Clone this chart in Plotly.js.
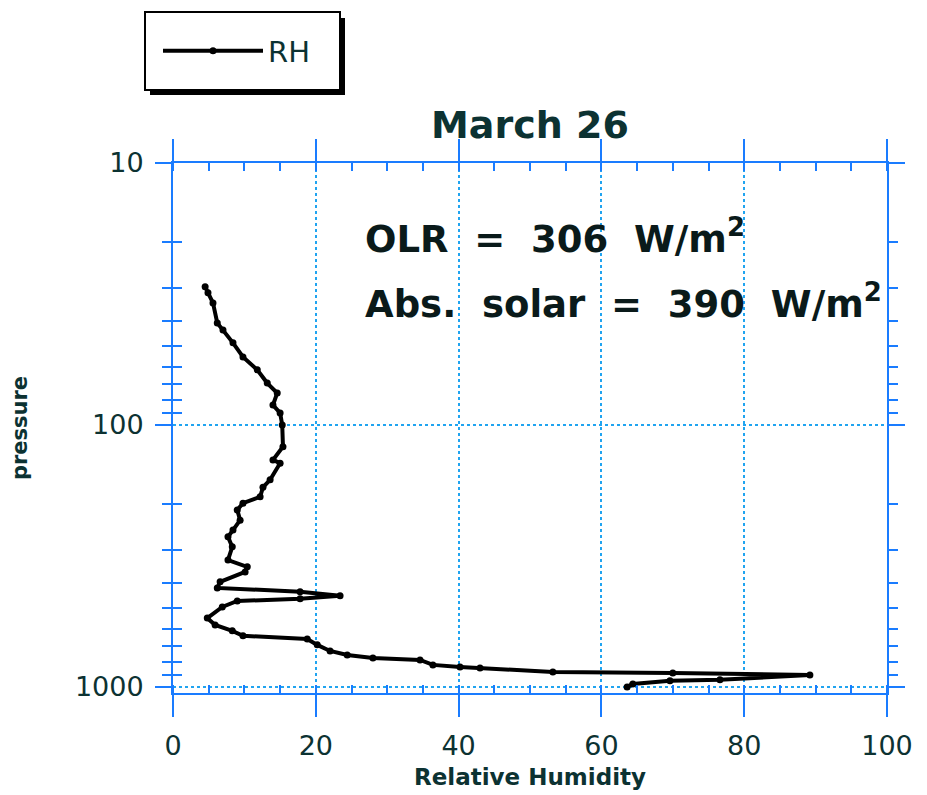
<!DOCTYPE html>
<html>
<head>
<meta charset="utf-8">
<script src="https://cdn.plot.ly/plotly-3.0.1.min.js"></script>
<style>
  html, body { margin: 0; padding: 0; background: #ffffff; }
  #chart { width: 927px; height: 795px; }
</style>
</head>
<body>
<div id="chart"></div>
<script>
// ---- data ----
const seriesName = 'RH';
const chartTitle = 'March 26';
const pressure = [29.7, 31.3, 34.2, 40.8, 43.4, 48.6, 55.0, 61.6, 69.2, 75.5,
                  83.9, 90.0, 100, 121, 136, 140, 162, 173, 188, 199,
                  211, 231, 252, 267, 292, 328, 348, 364, 397, 419,
                  433, 449, 461, 470, 495, 546, 580, 611, 638, 656,
                  691, 729, 755, 775, 789, 824, 839, 846, 877, 885,
                  900, 940, 948, 975, 1000];
const relHumidity = [4.5, 4.9, 5.6, 6.2, 7.0, 8.4, 9.8, 11.8, 13.2, 14.6,
                     14.0, 15.0, 15.3, 15.4, 14.0, 15.0, 13.6, 12.6, 12.2, 9.8,
                     9.0, 9.4, 8.4, 7.7, 8.3, 7.7, 10.4, 10.1, 6.6, 6.2,
                     17.8, 23.4, 17.8, 9.0, 6.9, 4.8, 5.9, 8.3, 9.8, 18.8,
                     20.2, 22.0, 24.4, 28.0, 34.6, 36.4, 40.2, 43.0, 53.2, 70.0,
                     89.2, 76.6, 69.6, 64.4, 63.6];
const xTickVals = [0, 20, 40, 60, 80, 100];
const yTickVals = [10, 100, 1000];
const yTickText = ['10', '100', '1000'];
const yMinorVals = [20, 30, 40, 50, 60, 70, 80, 90, 200, 300, 400, 500, 600, 700, 800, 900];
const olrText = 'OLR\u00a0\u00a0=\u00a0\u00a0306\u00a0\u00a0W/m<sup>2</sup>';
const solarText = 'Abs.\u00a0\u00a0solar\u00a0\u00a0=\u00a0\u00a0390\u00a0\u00a0W/m<sup>2</sup>';

// ---- styling ----
const AX = '#1a7cff';
const GRID = '#20a4f0';
const TXT = '#0c3232';
const FONT = 'DejaVu Sans, Arial, sans-serif';
const yRange = [Math.log10(1055), 1];

const traces = [
  {
    type: 'scatter',
    mode: 'lines+markers',
    name: seriesName,
    x: relHumidity,
    y: pressure,
    line: { color: '#000000', width: 4 },
    marker: { color: '#000000', size: 7, symbol: 'circle' },
    hoverinfo: 'x+y'
  },
  {
    type: 'scatter', x: [], y: [], yaxis: 'y2',
    showlegend: false, hoverinfo: 'skip'
  }
];

const layout = {
  width: 927,
  height: 795,
  paper_bgcolor: '#ffffff',
  plot_bgcolor: '#ffffff',
  margin: { l: 173, r: 40, t: 163, b: 102, pad: 0 },
  font: { family: FONT, color: TXT },
  showlegend: true,
  title: {
    text: '<b>' + chartTitle + '</b>',
    font: { family: FONT, size: 38, color: TXT },
    xref: 'paper', x: 0.5, xanchor: 'center',
    y: 1 - 125 / 795, yanchor: 'middle'
  },
  xaxis: {
    range: [0, 100], autorange: false,
    tickmode: 'array', tickvals: xTickVals,
    ticks: 'outside', ticklen: 22, tickwidth: 2, tickcolor: AX,
    showline: true, linecolor: AX, linewidth: 2, mirror: 'ticks',
    showgrid: true, gridcolor: GRID, gridwidth: 2, griddash: 'dot',
    zeroline: false,
    tickfont: { family: FONT, size: 27, color: TXT },
    ticklabelstandoff: 6,
    minor: { dtick: 5, tick0: 0, ticks: 'inside', ticklen: 8, tickwidth: 2, tickcolor: AX, showgrid: false },
    title: { text: '<b>Relative Humidity</b>', font: { family: FONT, size: 23, color: TXT }, standoff: 8 }
  },
  yaxis: {
    type: 'log', range: yRange, autorange: false,
    tickmode: 'array', tickvals: yTickVals, ticktext: yTickText,
    ticks: 'outside', ticklen: 16, tickwidth: 2, tickcolor: AX,
    showline: true, linecolor: AX, linewidth: 2, mirror: 'ticks',
    showgrid: true, gridcolor: GRID, gridwidth: 2, griddash: 'dot',
    zeroline: false,
    tickfont: { family: FONT, size: 27, color: TXT },
    ticklabelstandoff: 6,
    minor: { tickmode: 'array', tickvals: yMinorVals, ticks: 'outside', ticklen: 9, tickwidth: 2, tickcolor: AX, showgrid: false },
    title: { text: '<b>pressure</b>', font: { family: FONT, size: 21, color: TXT }, standoff: 42 }
  },
  yaxis2: {
    type: 'log', range: yRange, autorange: false, overlaying: 'y', side: 'left',
    showline: false, showgrid: false, zeroline: false, showticklabels: false,
    ticks: '', mirror: 'ticks',
    minor: { tickmode: 'array', tickvals: yMinorVals, ticks: 'inside', ticklen: 9, tickwidth: 2, tickcolor: AX, showgrid: false }
  },
  legend: {
    x: (158 - 173) / 714, xanchor: 'left',
    y: (693 - 51) / 530, yanchor: 'middle',
    bgcolor: 'rgba(0,0,0,0)', borderwidth: 0,
    itemwidth: 100,
    font: { family: FONT, size: 29, color: TXT }
  },
  shapes: [
    { type: 'rect', xref: 'paper', yref: 'paper', layer: 'above',
      x0: (150 - 173) / 714, x1: (345 - 173) / 714, y0: (693 - 95) / 530, y1: (693 - 18) / 530,
      fillcolor: '#000000', line: { width: 0 } },
    { type: 'rect', xref: 'paper', yref: 'paper', layer: 'above',
      x0: (145 - 173) / 714, x1: (340 - 173) / 714, y0: (693 - 90) / 530, y1: (693 - 12) / 530,
      fillcolor: '#ffffff', line: { color: '#000000', width: 2 } }
  ],
  annotations: [
    { xref: 'paper', yref: 'paper', x: (363 - 173) / 714, y: (693 - 236) / 530,
      xanchor: 'left', yanchor: 'middle', showarrow: false,
      text: '<b>' + olrText + '</b>', font: { family: FONT, size: 37, color: '#0a1a1a' } },
    { xref: 'paper', yref: 'paper', x: (363 - 173) / 714, y: (693 - 301) / 530,
      xanchor: 'left', yanchor: 'middle', showarrow: false,
      text: '<b>' + solarText + '</b>', font: { family: FONT, size: 37, color: '#0a1a1a' } }
  ]
};

Plotly.newPlot('chart', traces, layout, { displayModeBar: false, staticPlot: true });
</script>
</body>
</html>
